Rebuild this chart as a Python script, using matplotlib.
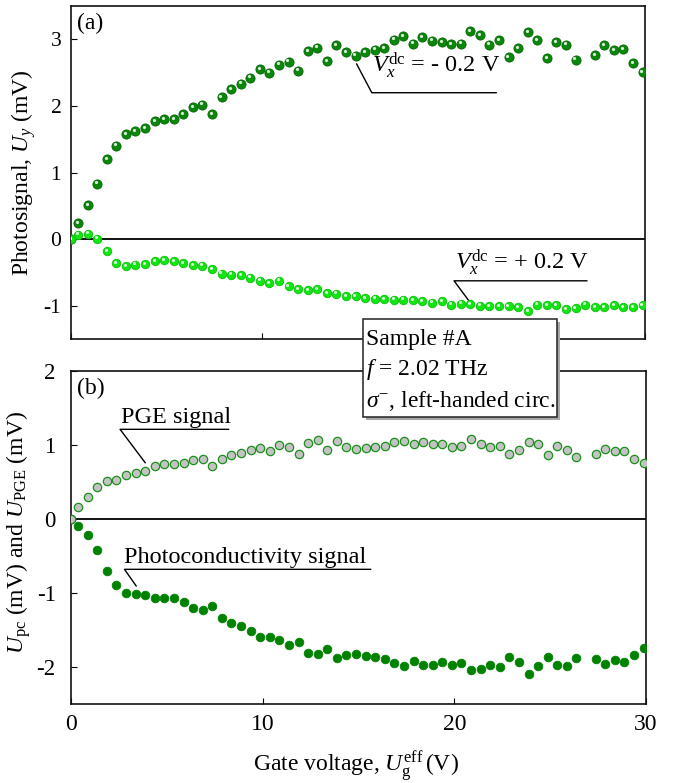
import numpy as np
import matplotlib
matplotlib.use('Agg')
import matplotlib.pyplot as plt
from matplotlib.transforms import ScaledTranslation
from matplotlib.patches import Rectangle
from matplotlib.lines import Line2D

plt.rcParams['font.family'] = ['Liberation Serif', 'DejaVu Serif']
plt.rcParams['mathtext.fontset'] = 'custom'
plt.rcParams['mathtext.rm'] = 'Liberation Serif'
plt.rcParams['mathtext.it'] = 'Liberation Serif:italic'
plt.rcParams['mathtext.bf'] = 'Liberation Serif:bold'

nan = np.nan

# ---------------- data ----------------
gate_voltage = [0.0, 0.37, 0.87, 1.37, 1.87, 2.37, 2.87, 3.37, 3.87, 4.37, 4.87,
                5.37, 5.87, 6.37, 6.87, 7.37, 7.87, 8.37, 8.87, 9.37, 9.87,
                10.37, 10.87, 11.37, 11.87, 12.37, 12.87, 13.37, 13.87, 14.37, 14.87,
                15.37, 15.87, 16.37, 16.87, 17.37, 17.87, 18.37, 18.87, 19.37, 19.87,
                20.37, 20.87, 21.37, 21.87, 22.37, 22.87, 23.37, 23.87, 24.37, 24.87,
                25.37, 25.87, 26.37, 26.87, 27.37, 27.87, 28.37, 28.87, 29.37, 29.87]

uy_minus = [0.0,
            0.245, 0.515, 0.835, 1.205, 1.405, 1.58, 1.625, 1.665, 1.775, 1.805,
            1.805, 1.875, 1.985, 2.02, 1.875, 2.135, 2.25, 2.335, 2.425, 2.55,
            2.5, 2.62, 2.665, 2.53, 2.825, 2.875, 2.675, 2.915, 2.81, 2.755,
            2.805, 2.845, 2.87, 2.995, 3.045, 2.935, 3.035, 2.98, 2.955, 2.93,
            2.935, 3.12, 3.06, 2.92, 2.985, 2.735, 2.87, 3.11, 2.985, 2.72,
            2.96, 2.92, 2.695, nan, 2.76, 2.91, 2.835, 2.855, 2.645, 2.51]

uy_plus = [0.0,
           0.07, 0.085, 0.01, -0.18, -0.355, -0.405, -0.38, -0.375, -0.325, -0.315,
           -0.325, -0.355, -0.39, -0.395, -0.445, -0.515, -0.53, -0.54, -0.575, -0.62,
           -0.655, -0.62, -0.7, -0.75, -0.76, -0.75, -0.805, -0.815, -0.855, -0.855,
           -0.885, -0.89, -0.9, -0.905, -0.905, -0.915, -0.93, -0.95, -0.925, -0.98,
           -0.965, -0.975, -0.995, -1.0, -1.0, -1.005, -1.015, -1.075, -0.98, -0.99,
           -0.99, -1.05, -1.03, -0.98, -1.015, -1.015, -0.985, -1.015, -1.015, -0.99]

u_pge = [0.0,
         0.158, 0.293, 0.428, 0.514, 0.523, 0.595, 0.622, 0.649, 0.716, 0.743,
         0.739, 0.761, 0.802, 0.811, 0.712, 0.811, 0.860, 0.892, 0.932, 0.959,
         0.919, 1.0, 0.977, 0.883, 1.032, 1.063, 0.928, 1.05, 0.977, 0.95,
         0.958, 0.975, 0.989, 1.043, 1.056, 1.02, 1.047, 1.02, 1.02, 0.975,
         0.984, 1.079, 1.02, 0.971, 0.993, 0.876, 0.93, 1.034, 1.007, 0.867,
         0.984, 0.93, 0.84, nan, 0.876, 0.944, 0.921, 0.921, 0.809, 0.76]

u_pc = [0.0,
        -0.09, -0.216, -0.419, -0.707, -0.892, -1.005, -1.014, -1.032, -1.068, -1.068,
        -1.072, -1.126, -1.198, -1.225, -1.171, -1.338, -1.41, -1.45, -1.518, -1.599,
        -1.595, -1.64, -1.698, -1.658, -1.806, -1.829, -1.757, -1.878, -1.842, -1.824,
        -1.845, -1.865, -1.892, -1.946, -1.982, -1.924, -1.978, -1.969, -1.937, -1.969,
        -1.946, -2.045, -2.027, -1.969, -2.0, -1.865, -1.937, -2.094, -1.991, -1.865,
        -1.969, -1.982, -1.879, nan, -1.892, -1.96, -1.91, -1.937, -1.834, -1.744]

x_ticks = [0, 10, 20, 30]
top_yticks = [-1, 0, 1, 2, 3]
bot_yticks = [-2, -1, 0, 1, 2]

# ---------------- figure ----------------
W, H = 674, 783
fig = plt.figure(figsize=(W / 100, H / 100), dpi=100)

def fax(l, t, r, b):
    return fig.add_axes([l / W, 1 - b / H, (r - l) / W, (b - t) / H])

ax1 = fax(71, 6, 645, 339.5)
ax2 = fax(71, 371, 646, 704)

dark = '#0a870a'
bright = '#12e612'

def spheres(ax, x, y, color, edge, ms, hl_ms):
    ax.plot(x, y, 'o', ms=ms, mfc=color, mec=edge, mew=0.6, ls='none', zorder=3)
    off = ax.transData + ScaledTranslation(-0.011, 0.014, fig.dpi_scale_trans)
    ax.plot(x, y, 'o', ms=hl_ms, mfc='white', mec='none', alpha=0.85,
            ls='none', zorder=4, transform=off)

# panel (a)
ax1.axhline(0, color='black', lw=1.3, zorder=2)
spheres(ax1, gate_voltage, uy_minus, dark, '#056405', 6.6, 2.3)
spheres(ax1, gate_voltage, uy_plus, bright, '#0cbf0c', 6.1, 2.2)
ax1.set_xlim(0, 30)
ax1.set_ylim(-1.5, 3.5)
ax1.set_xticks(x_ticks)
ax1.set_xticklabels([])
ax1.set_yticks(top_yticks)
ax1.set_yticklabels([str(v) for v in top_yticks])

# panel (b)
ax2.axhline(0, color='black', lw=1.3, zorder=2)
ax2.plot(gate_voltage, u_pc, 'o', ms=6.2, mfc='#008200', mec='#008200', mew=0.6,
         ls='none', zorder=3)
ax2.plot(gate_voltage, u_pge, 'o', ms=6.0, mfc='#c3c3c3', mec='#1b8f1b', mew=0.9,
         ls='none', zorder=4)
ax2.set_xlim(0, 30)
ax2.set_ylim(-2.5, 2)
ax2.set_xticks(x_ticks)
ax2.set_xticklabels([str(v) for v in x_ticks])
ax2.set_yticks(bot_yticks)
ax2.set_yticklabels([str(v) for v in bot_yticks])

for ax in (ax1, ax2):
    for s in ax.spines.values():
        s.set_linewidth(1.2)
        s.set_color('#111111')
    ax.tick_params(direction='in', length=4.5, width=0.8, top=False, right=False)
ax1.tick_params(axis='y', labelsize=15.5, pad=7)
ax2.tick_params(axis='y', labelsize=16.5, pad=11)
ax2.tick_params(axis='x', labelsize=17, pad=7)

# panel letters
ax1.text(0.0105, 0.979, '(a)', transform=ax1.transAxes, ha='left', va='top', fontsize=17)
ax2.text(0.0105, 0.979, '(b)', transform=ax2.transAxes, ha='left', va='top', fontsize=17)

# annotations panel (a)
ax1.text(15.72, 2.51, r'$V_x^{\rm dc}$ = - 0.2 V', fontsize=17.5, ha='left', va='baseline')
ax1.add_line(Line2D([14.93, 15.72, 22.22], [2.63, 2.20, 2.20], color='black', lw=1.0))
ax1.text(20.05, -0.445, r'$V_x^{\rm dc}$ = + 0.2 V', fontsize=17.5, ha='left', va='baseline')
ax1.add_line(Line2D([20.77, 20.02, 26.96], [-0.91, -0.62, -0.62], color='black', lw=1.0))

# annotations panel (b)
ax2.text(2.62, 1.293, 'PGE signal', fontsize=17.5, ha='left', va='baseline')
ax2.add_line(Line2D([3.87, 2.56, 8.22], [0.761, 1.212, 1.212], color='black', lw=1.0))
ax2.text(2.75, -0.59, 'Photoconductivity signal', fontsize=17.5, ha='left', va='baseline')
ax2.add_line(Line2D([3.40, 2.79, 15.63], [-0.905, -0.68, -0.68], color='black', lw=1.0))

# axis labels
fig.text(24 / W, 1 - 172.5 / H, r'Photosignal, $U_y$ (mV)', rotation=90,
         ha='center', va='center', fontsize=17)
fig.text(19 / W, 1 - 532 / H, r'$U_{\rm pc}$ (mV) and $U_{\rm PGE}$ (mV)', rotation=90,
         ha='center', va='center', fontsize=17)
fig.text(356 / W, 11 / H, r'Gate voltage, $U_{\rm g}^{\rm eff}\,$(V)',
         ha='center', va='baseline', fontsize=17)

# info box spanning both panels
bl, bt, br, bb = 363, 319, 556.5, 416.5
fig.patches.append(Rectangle(((bl + 3) / W, 1 - (bb + 3) / H), (br - bl) / W, (bb - bt) / H,
                             transform=fig.transFigure, facecolor='#a8a8a8',
                             edgecolor='none', zorder=10))
fig.patches.append(Rectangle((bl / W, 1 - bb / H), (br - bl) / W, (bb - bt) / H,
                             transform=fig.transFigure, facecolor='white',
                             edgecolor='#222222', lw=1.1, zorder=11))
lines = ['Sample #A', r'$f$ = 2.02 THz', r'$\sigma^{-}$, left-handed circ.']
baselines = [345, 375.5, 406.5]
for s, yb in zip(lines, baselines):
    fig.text(366.5 / W, 1 - yb / H, s, ha='left', va='baseline', fontsize=17, zorder=12)

fig.savefig('out.png', dpi=100)
